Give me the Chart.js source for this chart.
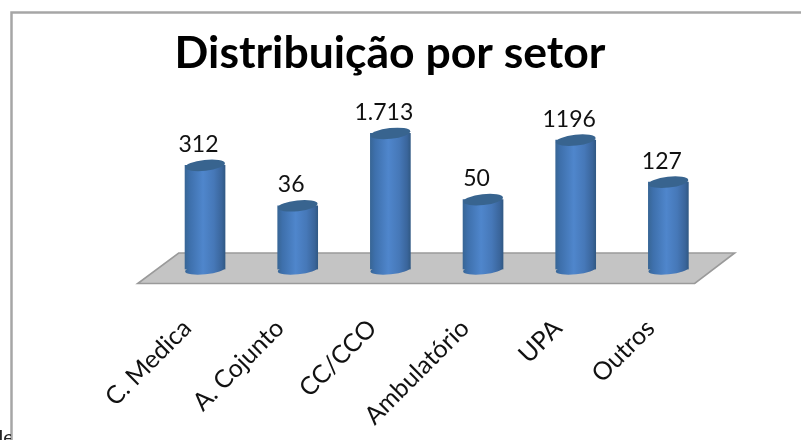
<!DOCTYPE html>
<html><head><meta charset="utf-8">
<script src="https://cdn.jsdelivr.net/npm/chart.js@4"></script>
<style>
html,body{margin:0;padding:0;background:#fff;overflow:hidden}
#wrap{position:relative;width:801px;height:440px;overflow:hidden}
canvas{position:absolute;left:0;top:0}
#frag{position:absolute;left:-8px;top:424px;width:19px;overflow:hidden;font:20px Lato,sans-serif;color:#222;white-space:nowrap}
</style></head><body>
<div id="wrap"><canvas id="c" width="801" height="440"></canvas><div id="frag">de</div></div>
<script>
const categories = ["C. Medica","A. Cojunto","CC/CCO","Ambulatório","UPA","Outros"];
const values = [312,36,1713,50,1196,127];
const valueLabels = ["312","36","1.713","50","1196","127"];
const titleText = "Distribuição por setor";

function sideGradient(ctx,x0,x1){
  const g=ctx.createLinearGradient(x0,0,x1,0);
  g.addColorStop(0,"#386696");g.addColorStop(0.12,"#3E70AC");
  g.addColorStop(0.45,"#4F86CC");g.addColorStop(0.72,"#4678B8");
  g.addColorStop(0.92,"#3A659B");g.addColorStop(1,"#315985");
  return g;
}
const scene={
  id:"scene",
  afterLayout(chart){
    chart.titleBlock.left=0;chart.titleBlock.right=780;
  },
  beforeDraw(chart){
    const {ctx,width}=chart;
    ctx.save();
    ctx.strokeStyle="#A6A6A6";ctx.lineWidth=2.5;
    ctx.beginPath();ctx.moveTo(11.5,440);ctx.lineTo(11.5,12.5);ctx.lineTo(width,12.5);ctx.stroke();
    ctx.restore();
  },
  beforeDatasetsDraw(chart){
    const {ctx,chartArea:a}=chart;
    const b=a.bottom;
    ctx.save();
    ctx.fillStyle="#C4C4C4";ctx.strokeStyle="#9A9A9A";ctx.lineWidth=1.6;
    ctx.beginPath();
    ctx.moveTo(a.left-21,b+14);ctx.lineTo(a.right-20,b+14);
    ctx.lineTo(a.right+20,b-16.5);ctx.lineTo(a.left+20,b-16.5);ctx.closePath();
    ctx.fill();ctx.stroke();
    // bottom caps of the cylinders
    chart.getDatasetMeta(0).data.forEach(bar=>{
      const w=bar.width/2;
      ctx.fillStyle=sideGradient(ctx,bar.x-w,bar.x+w);
      ctx.beginPath();
      ctx.ellipse(bar.x,bar.base,w,4.8,-0.1,0,Math.PI*2);
      ctx.fill();
    });
    ctx.restore();
  },
  afterDatasetsDraw(chart){
    const {ctx}=chart;
    ctx.save();
    chart.getDatasetMeta(0).data.forEach((bar,i)=>{
      const w=bar.width/2;
      ctx.fillStyle="#38648F";
      ctx.beginPath();
      ctx.ellipse(bar.x,bar.y,w,5.4,-0.11,0,Math.PI*2);
      ctx.fill();
      ctx.fillStyle="#111";
      ctx.font="23px Lato, sans-serif";
      ctx.textAlign="center";ctx.textBaseline="middle";
      ctx.fillText(valueLabels[i],bar.x-6.5,bar.y-21);
    });
    ctx.restore();
  }
};
new Chart(document.getElementById("c"),{
  type:"bar",
  data:{labels:categories,datasets:[{
    data:values,
    barThickness:40,
    backgroundColor(c){
      const sx=c.chart.scales.x;
      const x=sx&&c.dataIndex!==undefined?sx.getPixelForValue(c.dataIndex):NaN;
      if(!Number.isFinite(x))return "#4F81BD";
      return sideGradient(c.chart.ctx,x-20,x+20);
    },
    borderWidth:0
  }]},
  options:{
    responsive:false,animation:false,
    layout:{padding:{left:158.7,right:86.3,top:0,bottom:0}},
    plugins:{
      legend:{display:false},tooltip:{enabled:false},
      title:{display:true,text:titleText,color:"#000",
        font:{family:"Lato, sans-serif",size:44.5,weight:"bold"},
        padding:{top:27,bottom:20}}
    },
    scales:{
      x:{grid:{display:false},border:{display:false},
        afterFit(s){s.height=170.5;},
        ticks:{minRotation:45,maxRotation:45,color:"#111",padding:36,labelOffset:-18,
          font:{family:"Lato, sans-serif",size:25}}},
      y:{type:"logarithmic",display:false,min:1.2,max:10000}
    }
  },
  plugins:[scene]
});
</script></body></html>
